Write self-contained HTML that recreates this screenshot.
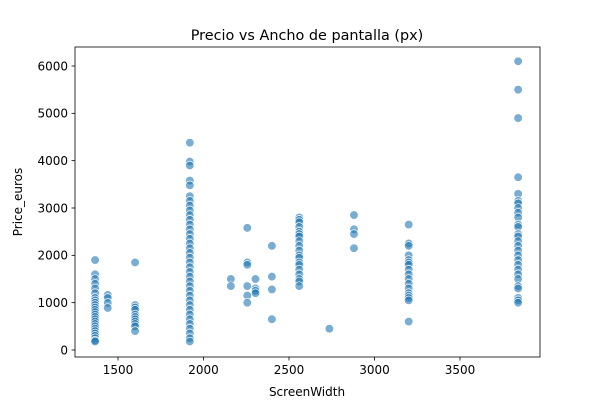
<!DOCTYPE html>
<html><head><meta charset="utf-8"><style>
body{margin:0;background:#fff;font-family:"Liberation Sans","DejaVu Sans",sans-serif}
svg text{font-family:"DejaVu Sans","Liberation Sans",sans-serif;fill:#000}
</style></head><body>
<svg id="c" width="600" height="400" viewBox="0 0 600 400">
<rect width="600" height="400" fill="#fff"/>
<text x="307" y="40" font-size="14.4" text-anchor="middle">Precio vs Ancho de pantalla (px)</text>
<text x="307" y="396" font-size="12" text-anchor="middle">ScreenWidth</text>
<text x="0" y="0" font-size="12" text-anchor="middle" transform="translate(22,202) rotate(-90)">Price_euros</text>
<g id="pts"></g>
<g id="ax"></g>
</svg>
<script>
const widths=[1366,1440,1600,1920,2160,2256,2304,2400,2560,2736,2880,3200,3840];
const prices=[
[1900,1600,1500,1400,1300,1200,1100,1050,1000,950,900,850,800,750,700,650,600,550,500,450,400,350,300,250,200,180],
[1163,1100,994,888],
[1850,950,900,850,750,700,650,600,550,500,400],
[4380,3980,3900,3580,3480,3250,3150,3050,2950,2850,2750,2650,2550,2450,2350,2250,2150,2050,1950,1850,1750,1650,1550,1450,1350,1250,1150,1050,950,850,750,650,550,450,350,250,180],
[1500,1350],
[2580,1850,1800,1350,1150,1000],
[1500,1300,1250,1200],
[2200,1550,1280,650],
[2800,2750,2700,2600,2500,2450,2400,2300,2200,2100,2000,1950,1850,1800,1700,1600,1500,1450,1350],
[450],
[2850,2550,2450,2150],
[2650,2250,2200,2000,1900,1850,1800,1700,1600,1500,1400,1300,1200,1150,1100,1050,600],
[6100,5500,4900,3650,3300,3150,3100,3000,2900,2800,2650,2600,2450,2400,2300,2200,2100,2000,1900,1800,1700,1600,1500,1350,1300,1100,1050,1000]
];
const xTicks=[1500,2000,2500,3000,3500];
const yTicks=[0,1000,2000,3000,4000,5000,6000];
const L=75,R=540,T=47,B=357;
const xs=v=>118+(v-1500)*(85.5/500);
const ys=v=>350-v*(284/6000);
const NS="http://www.w3.org/2000/svg";
const pts=document.getElementById('pts'),ax=document.getElementById('ax');
widths.forEach((w,i)=>prices[i].forEach(p=>{
 const c=document.createElementNS(NS,'circle');
 c.setAttribute('cx',xs(w));c.setAttribute('cy',ys(p));c.setAttribute('r',4.3);
 c.setAttribute('fill','#1f77b4');c.setAttribute('fill-opacity','0.6');
 c.setAttribute('stroke','#fff');c.setAttribute('stroke-width','0.7');
 
 
 pts.appendChild(c);
}));
function el(t,a){const e=document.createElementNS(NS,t);for(const k in a)e.setAttribute(k,a[k]);ax.appendChild(e);return e;}
const fr=el('rect',{x:L,y:T,width:R-L,height:B-T,fill:'none',stroke:'#000','stroke-width':0.8});


xTicks.forEach(v=>{
 const x=xs(v);
 const l=el('line',{x1:x,x2:x,y1:B,y2:B+3.5,stroke:'#000','stroke-width':0.8});
 
 
 const t=el('text',{x:x,y:B+17,'font-size':12,'text-anchor':'middle'});t.textContent=v;
 
 
});
yTicks.forEach(v=>{
 const y=ys(v);
 const l=el('line',{x1:L-3.5,x2:L,y1:y,y2:y,stroke:'#000','stroke-width':0.8});
 
 
 const t=el('text',{x:L-7,y:y+4.3,'font-size':12,'text-anchor':'end'});t.textContent=v;
 
 
});
</script>
</body></html>
